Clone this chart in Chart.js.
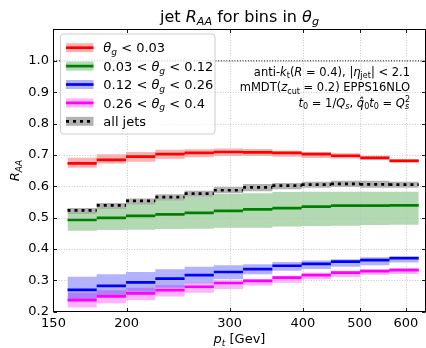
<!DOCTYPE html>
<html><head><meta charset="utf-8">
<script src="https://cdn.jsdelivr.net/npm/chart.js@4.4.0/dist/chart.umd.min.js"></script>
<style>html,body{margin:0;padding:0;background:#fff;}#wrap{width:426px;height:348px;}</style>
</head><body><div id="wrap"><canvas id="c" width="426" height="348"></canvas></div>
<script>
// ---- data ----
const binEdges = [158.5,177.8,199.5,223.9,251.2,281.8,316.2,354.8,398.1,446.7,501.2,562.3,631.0];
const xTickValues = [150,200,300,400,500,600];
const xTickLabels = ['150','200','300','400','500','600'];
const yTickValues = [0.2,0.3,0.4,0.5,0.6,0.7,0.8,0.9,1.0];
const yTickLabels = ['0.2','0.3','0.4','0.5','0.6','0.7','0.8','0.9','1.0'];
const refLineY = [1.0];

const red      = [0.673,0.684,0.694,0.702,0.706,0.709,0.708,0.706,0.702,0.697,0.690,0.681];
const redLo    = [0.659,0.672,0.678,0.687,0.692,0.696,0.696,0.694,0.690,0.688,0.684,0.676];
const redHi    = [0.691,0.702,0.709,0.716,0.718,0.720,0.719,0.713,0.709,0.705,0.697,0.687];

const green    = [0.492,0.499,0.505,0.510,0.515,0.521,0.526,0.530,0.535,0.538,0.538,0.539];
const greenLo  = [0.458,0.460,0.461,0.463,0.464,0.467,0.467,0.471,0.473,0.474,0.476,0.477];
const greenHi  = [0.515,0.530,0.543,0.556,0.566,0.575,0.577,0.581,0.582,0.582,0.582,0.582];

const blue     = [0.269,0.282,0.293,0.305,0.316,0.326,0.335,0.346,0.352,0.359,0.364,0.370];
const blueLo   = [0.240,0.253,0.263,0.276,0.290,0.303,0.319,0.330,0.336,0.343,0.348,0.356];
const blueHi   = [0.311,0.319,0.326,0.335,0.343,0.348,0.351,0.358,0.363,0.367,0.373,0.377];

const magenta   = [0.236,0.248,0.258,0.268,0.279,0.291,0.298,0.308,0.316,0.324,0.329,0.332];
const magentaLo = [0.213,0.226,0.236,0.248,0.260,0.272,0.283,0.292,0.303,0.310,0.317,0.320];
const magentaHi = [0.260,0.268,0.276,0.284,0.292,0.300,0.304,0.314,0.324,0.330,0.335,0.339];

const allJets   = [0.523,0.539,0.553,0.565,0.576,0.587,0.596,0.602,0.605,0.607,0.606,0.605];
const allJetsLo = [0.513,0.529,0.542,0.555,0.566,0.577,0.584,0.590,0.595,0.597,0.595,0.595];
const allJetsHi = [0.530,0.546,0.561,0.574,0.585,0.597,0.607,0.610,0.614,0.617,0.617,0.614];

const FONT = '"DejaVu Sans"';

// ---- helpers ----
function stepPts(vals){const p=[];vals.forEach((v,i)=>{p.push({x:binEdges[i],y:v},{x:binEdges[i+1],y:v});});return p;}
function segPts(vals){const p=[];vals.forEach((v,i)=>{p.push({x:binEdges[i],y:v},{x:binEdges[i+1],y:v},{x:binEdges[i+1],y:null});});return p;}

const series = [
  {lo:redLo, hi:redHi, mid:red, line:'#ff0000', band:'rgba(255,0,0,0.3)', dash:[]},
  {lo:greenLo, hi:greenHi, mid:green, line:'#008000', band:'rgba(0,128,0,0.3)', dash:[]},
  {lo:blueLo, hi:blueHi, mid:blue, line:'#0000ff', band:'rgba(0,0,255,0.3)', dash:[]},
  {lo:magentaLo, hi:magentaHi, mid:magenta, line:'#ff00ff', band:'rgba(255,0,255,0.3)', dash:[]},
  {lo:allJetsLo, hi:allJetsHi, mid:allJets, line:'#000000', band:'rgba(0,0,0,0.3)', dash:[3,4]}
];

const datasets = [];
series.forEach(s=>{
  datasets.push({data:stepPts(s.hi), borderWidth:0, pointRadius:0, fill:false, order:5});
  datasets.push({data:stepPts(s.lo), borderWidth:0, pointRadius:0, fill:'-1', backgroundColor:s.band, order:5});
});
series.forEach(s=>{
  datasets.push({data:segPts(s.mid), borderColor:s.line, borderWidth:2.7, borderDash:s.dash, pointRadius:0, fill:false, spanGaps:false, order:1, borderCapStyle:'butt'});
});
datasets.push({data:[{x:150,y:refLineY[0]},{x:650,y:refLineY[0]}], borderColor:'#000', borderWidth:1, borderDash:[1,1.7], pointRadius:0, fill:false, order:2});

function drawRich(ctx, parts, x, y, size, align){
  const segs = parts.map(p=>{
    const s = (p.sub||p.sup) ? size*0.7 : size;
    const f = (p.it?'italic ':'') + s + 'px ' + FONT;
    ctx.font = f;
    return {p, s, f, w: ctx.measureText(p.t).width};
  });
  let cur=0, prevStart=0;
  segs.forEach(sg=>{
    if(sg.p.stack){ sg.x=prevStart; cur=Math.max(cur, prevStart+sg.w); }
    else { sg.x=cur; prevStart=cur; cur+=sg.w; }
  });
  let x0 = x;
  if(align==='center') x0 = x - cur/2; else if(align==='right') x0 = x - cur;
  ctx.textAlign='left'; ctx.textBaseline='alphabetic'; ctx.fillStyle='#000';
  segs.forEach(sg=>{
    ctx.font = sg.f;
    let dy = 0;
    if(sg.p.sub) dy = size*0.22;
    if(sg.p.sup) dy = -size*0.42;
    ctx.fillText(sg.p.t, x0+sg.x, y+dy);
  });
}

const legendItems = [
  {parts:[{t:'θ',it:1},{t:'g',it:1,sub:1},{t:' < 0.03'}], s:0},
  {parts:[{t:'0.03 < '},{t:'θ',it:1},{t:'g',it:1,sub:1},{t:' < 0.12'}], s:1},
  {parts:[{t:'0.12 < '},{t:'θ',it:1},{t:'g',it:1,sub:1},{t:' < 0.26'}], s:2},
  {parts:[{t:'0.26 < '},{t:'θ',it:1},{t:'g',it:1,sub:1},{t:' < 0.4'}], s:3},
  {parts:[{t:'all jets'}], s:4}
];

const decor = {
  id:'decor',
  beforeDatasetsDraw(chart){
    const {ctx, chartArea:a, scales:{x,y}} = chart;
    ctx.save();
    ctx.beginPath(); ctx.rect(a.left,a.top,a.right-a.left,a.bottom-a.top); ctx.clip();
    ctx.strokeStyle='#bdbdbd'; ctx.lineWidth=0.8; ctx.setLineDash([1,1.6]);
    xTickValues.slice(1).forEach(v=>{
      const px=Math.round(x.getPixelForValue(v))+0.5;
      ctx.beginPath(); ctx.moveTo(px,a.top); ctx.lineTo(px,a.bottom); ctx.stroke();
    });
    yTickValues.slice(1).forEach(v=>{
      const py=Math.round(y.getPixelForValue(v))+0.5;
      ctx.beginPath(); ctx.moveTo(a.left,py); ctx.lineTo(a.right,py); ctx.stroke();
    });
    ctx.restore();
  },
  afterDatasetsDraw(chart){
    const {ctx, chartArea:a, scales:{x,y}} = chart;
    ctx.save();
    // spines
    ctx.strokeStyle='#000'; ctx.lineWidth=1; ctx.setLineDash([]);
    ctx.strokeRect(a.left, a.top, a.right-a.left, a.bottom-a.top);
    // inward ticks
    ctx.lineWidth=0.9;
    xTickValues.slice(1).forEach(v=>{
      const px=Math.round(x.getPixelForValue(v))+0.5;
      ctx.beginPath(); ctx.moveTo(px,a.bottom); ctx.lineTo(px,a.bottom-3.5);
      ctx.moveTo(px,a.top); ctx.lineTo(px,a.top+3.5); ctx.stroke();
    });
    yTickValues.forEach(v=>{
      const py=Math.round(y.getPixelForValue(v))+0.5;
      ctx.beginPath(); ctx.moveTo(a.left,py); ctx.lineTo(a.left+3.5,py);
      ctx.moveTo(a.right,py); ctx.lineTo(a.right-3.5,py); ctx.stroke();
    });
    // annotations
    drawRich(ctx,[{t:'anti-'},{t:'k',it:1},{t:'t',sub:1},{t:'('},{t:'R',it:1},{t:' = 0.4), |'},{t:'η',it:1},{t:'jet',sub:1},{t:'| < 2.1'}],410,75.5,11.5,'right');
    drawRich(ctx,[{t:'mMDT('},{t:'z',it:1},{t:'cut',sub:1},{t:' = 0.2) EPPS16NLO'}],410,91.2,11.5,'right');
    drawRich(ctx,[{t:'t',it:1},{t:'0',sub:1},{t:' = 1/'},{t:'Q',it:1},{t:'s',it:1,sub:1},{t:', '},{t:'q\u0302',it:1},{t:'0',sub:1},{t:'t',it:1},{t:'0',sub:1},{t:' = '},{t:'Q',it:1},{t:'s',it:1,sub:1},{t:'2',sup:1,stack:1}],410,106.8,11.5,'right');
    // legend box
    const bx=60.5, by=34, bw=154.5, bh=100, r=3;
    ctx.beginPath();
    ctx.moveTo(bx+r,by); ctx.lineTo(bx+bw-r,by); ctx.arcTo(bx+bw,by,bx+bw,by+r,r);
    ctx.lineTo(bx+bw,by+bh-r); ctx.arcTo(bx+bw,by+bh,bx+bw-r,by+bh,r);
    ctx.lineTo(bx+r,by+bh); ctx.arcTo(bx,by+bh,bx,by+bh-r,r);
    ctx.lineTo(bx,by+r); ctx.arcTo(bx,by,bx+r,by,r); ctx.closePath();
    ctx.fillStyle='rgba(255,255,255,0.8)'; ctx.fill();
    ctx.strokeStyle='#cccccc'; ctx.lineWidth=1; ctx.stroke();
    legendItems.forEach((it,i)=>{
      const cy = 47.7 + i*18.4;
      const s = series[it.s];
      ctx.fillStyle = s.band; ctx.fillRect(66, cy-4.5, 27.5, 9);
      ctx.strokeStyle = s.line; ctx.lineWidth=2.7; ctx.setLineDash(s.dash); ctx.lineCap='butt';
      ctx.beginPath(); ctx.moveTo(66,cy); ctx.lineTo(93.5,cy); ctx.stroke();
      ctx.setLineDash([]);
      drawRich(ctx, it.parts, 103.3, cy+4.7, 13, 'left');
    });
    ctx.restore();
  },
  afterDraw(chart){
    const {ctx, chartArea:a} = chart;
    ctx.save();
    drawRich(ctx,[{t:'jet '},{t:'R',it:1},{t:'AA',it:1,sub:1},{t:' for bins in '},{t:'θ',it:1},{t:'g',it:1,sub:1}],(a.left+a.right)/2,21.5,16,'center');
    drawRich(ctx,[{t:'p',it:1},{t:'t',it:1,sub:1},{t:' [Gev]'}],(a.left+a.right)/2,343,13,'center');
    ctx.translate(19,(a.top+a.bottom)/2); ctx.rotate(-Math.PI/2);
    drawRich(ctx,[{t:'R',it:1},{t:'AA',it:1,sub:1}],0,0,13,'center');
    ctx.restore();
  }
};

new Chart(document.getElementById('c'), {
  type:'line',
  data:{datasets},
  options:{
    responsive:false, animation:false, devicePixelRatio:1,
    layout:{padding:{top:29.5,right:0.5,left:0,bottom:0}},
    plugins:{legend:{display:false}, tooltip:{enabled:false}, filler:{drawTime:'beforeDatasetsDraw', propagate:false}},
    scales:{
      x:{type:'logarithmic', min:150, max:648,
         afterBuildTicks:s=>{s.ticks = xTickValues.map(v=>({value:v}));},
         afterFit:s=>{s.height=36.5;},
         ticks:{autoSkip:false, maxRotation:0, minRotation:0, padding:4, color:'#000', font:{family:'DejaVu Sans', size:13},
                callback:(v,i)=>xTickLabels[i]},
         grid:{display:false, drawTicks:false}, border:{display:false}},
      y:{type:'linear', min:0.2, max:1.1,
         afterBuildTicks:s=>{s.ticks = yTickValues.map(v=>({value:v}));},
         afterFit:s=>{s.width=53.5;},
         ticks:{padding:4.5, color:'#000', font:{family:'DejaVu Sans', size:13},
                callback:(v,i)=>yTickLabels[i]},
         grid:{display:false, drawTicks:false}, border:{display:false}}
    }
  },
  plugins:[decor]
});
</script></body></html>
